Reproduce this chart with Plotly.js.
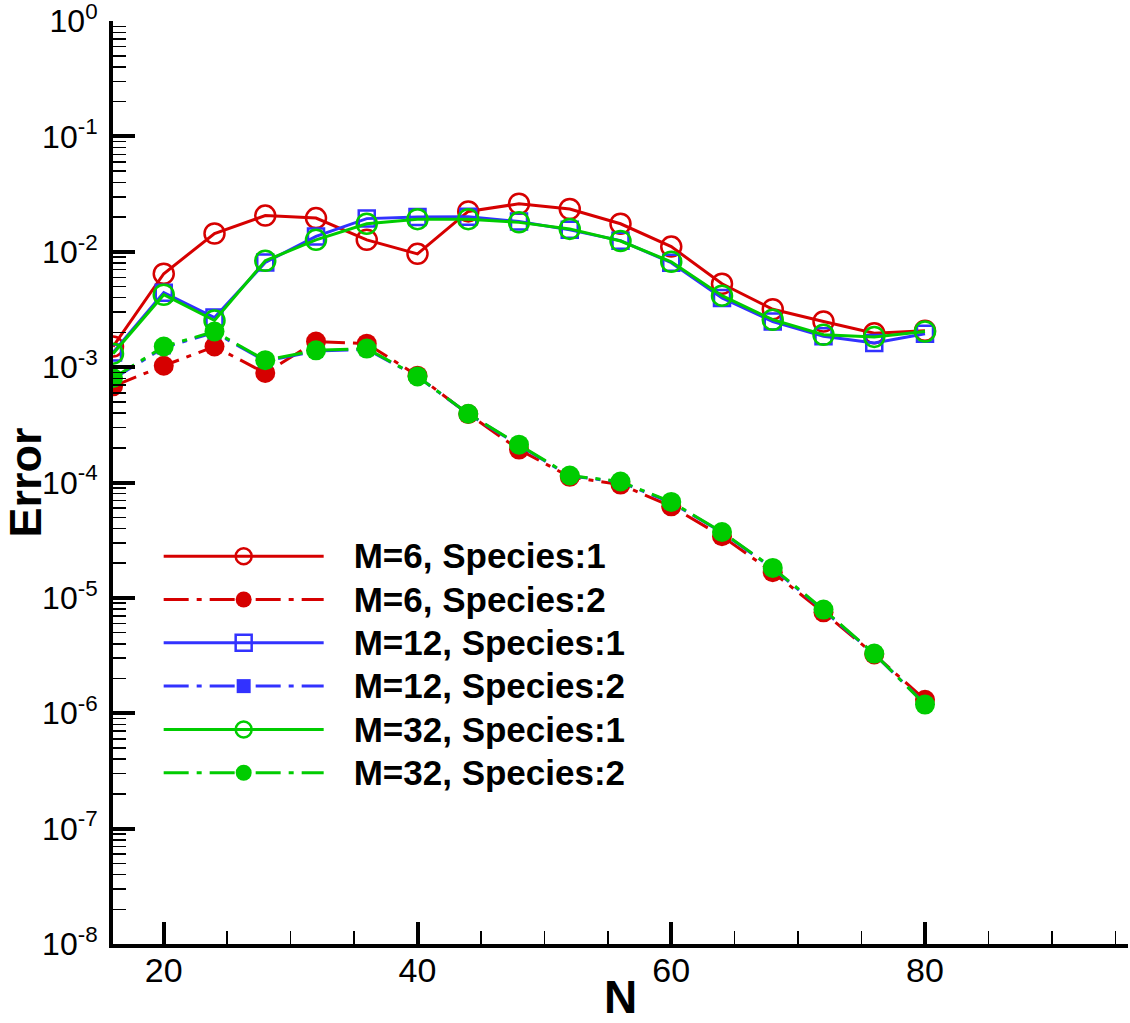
<!DOCTYPE html>
<html>
<head>
<meta charset="utf-8">
<script src="https://cdn.plot.ly/plotly-3.0.1.min.js"></script>
<style>
  html, body { margin: 0; padding: 0; background: #ffffff; }
  #chart { width: 1130px; height: 1023px; }
  #chart g.legend g.scrollbox { clip-path: none !important; }
  #chart g.legend text.legendtext { font-size: 35px !important; transform: translate(25px, 0px); }
</style>
</head>
<body>
<div id="chart"></div>
<script>
// ---- data ----
const N = [16, 20, 24, 28, 32, 36, 40, 44, 48, 52, 56, 60, 64, 68, 72, 76, 80];

const m6_s1  = [1.51e-3, 6.46e-3, 1.44e-2, 2.06e-2, 1.96e-2, 1.27e-2, 9.6e-3, 2.24e-2, 2.61e-2, 2.35e-2, 1.75e-2, 1.11e-2, 5.29e-3, 3.18e-3, 2.49e-3, 1.97e-3, 2.07e-3];
const m6_s2  = [6.82e-4, 1.03e-3, 1.51e-3, 8.9e-4, 1.67e-3, 1.60e-3, 8.44e-4, 3.92e-4, 1.93e-4, 1.12e-4, 9.6e-5, 6.22e-5, 3.42e-5, 1.67e-5, 7.5e-6, 3.23e-6, 1.31e-6];
const m12_s1 = [1.34e-3, 4.42e-3, 2.69e-3, 8.09e-3, 1.36e-2, 1.94e-2, 2.0e-2, 2.01e-2, 1.83e-2, 1.55e-2, 1.25e-2, 8.05e-3, 3.98e-3, 2.49e-3, 1.85e-3, 1.62e-3, 1.95e-3];
const m12_s2 = [7.9e-4, 1.48e-3, 2.0e-3, 1.13e-3, 1.38e-3, 1.43e-3, 8.3e-4, 3.94e-4, 2.1e-4, 1.14e-4, 1.01e-4, 6.7e-5, 3.7e-5, 1.8e-5, 7.8e-6, 3.27e-6, 1.2e-6];
const m32_s1 = [1.31e-3, 4.25e-3, 2.54e-3, 8.37e-3, 1.27e-2, 1.75e-2, 1.92e-2, 1.92e-2, 1.80e-2, 1.58e-2, 1.24e-2, 8.2e-3, 4.17e-3, 2.58e-3, 1.91e-3, 1.83e-3, 2.04e-3];
const m32_s2 = [8.06e-4, 1.51e-3, 2.04e-3, 1.15e-3, 1.40e-3, 1.45e-3, 8.32e-4, 3.95e-4, 2.13e-4, 1.15e-4, 1.02e-4, 6.79e-5, 3.73e-5, 1.82e-5, 7.92e-6, 3.29e-6, 1.19e-6];

const names = ["M=6, Species:1", "M=6, Species:2", "M=12, Species:1", "M=12, Species:2", "M=32, Species:1", "M=32, Species:2"];

const yTickVals = [1, 1e-1, 1e-2, 1e-3, 1e-4, 1e-5, 1e-6, 1e-7, 1e-8];
const yTickText = ["10<sup>0</sup>", "10<sup>-1</sup>", "10<sup>-2</sup>", "10<sup>-3</sup>", "10<sup>-4</sup>", "10<sup>-5</sup>", "10<sup>-6</sup>", "10<sup>-7</sup>", "10<sup>-8</sup>"];

// ---- styles ----
const RED = "rgb(214,0,0)", BLUE = "rgb(50,50,255)", GREEN = "rgb(0,204,0)";
const DASHDOT = "25px,8px,5px,8px";

function tr(y, name, color, dash, symbol, size, mline) {
  return {
    x: N, y: y, name: name, type: "scatter", mode: "lines+markers",
    line: { color: color, width: 3, dash: dash },
    marker: { symbol: symbol, size: size, color: color, line: { color: color, width: mline } }
  };
}

const traces = [
  tr(m6_s1,  names[0], RED,   "solid", "circle-open", 20, 2.5),
  tr(m6_s2,  names[1], RED,   DASHDOT, "circle",      20, 0),
  tr(m12_s1, names[2], BLUE,  "solid", "square-open", 16, 2.5),
  tr(m12_s2, names[3], BLUE,  DASHDOT, "square",      14, 0),
  tr(m32_s1, names[4], GREEN, "solid", "circle-open", 20, 2.5),
  tr(m32_s2, names[5], GREEN, DASHDOT, "circle",      20, 0)
];

const FONT = "Liberation Sans, Arial, Helvetica, sans-serif";

const layout = {
  width: 1130, height: 1023,
  margin: { l: 113, r: 2, t: 21, b: 79 },
  paper_bgcolor: "#ffffff", plot_bgcolor: "#ffffff",
  font: { family: FONT, color: "#000000", size: 32 },
  showlegend: true,
  legend: {
    x: 0.045, y: 0.449, xanchor: "left", yanchor: "top",
    bgcolor: "rgba(0,0,0,0)", borderwidth: 0,
    itemwidth: 160,
    font: { family: FONT, size: 31, color: "#000000", weight: "bold" },
    tracegroupgap: 0
  },
  xaxis: {
    range: [16, 96], showgrid: false, zeroline: false,
    showline: true, linecolor: "#000", linewidth: 4, mirror: false,
    tickmode: "linear", tick0: 0, dtick: 20,
    ticks: "inside", ticklen: 22, tickwidth: 4, tickcolor: "#000",
    ticklabelstandoff: -7,
    tickfont: { family: FONT, size: 34, color: "#000" },
    minor: { dtick: 5, tick0: 0, ticks: "inside", ticklen: 13, tickwidth: 1.5, tickcolor: "#000", showgrid: false },
    title: { text: "<b>N</b>", font: { family: FONT, size: 46, color: "#000" }, standoff: 27 }
  },
  yaxis: {
    type: "log", range: [-8, 0.0008], showgrid: false, zeroline: false,
    showline: true, linecolor: "#000", linewidth: 4, mirror: false,
    tickmode: "array", tickvals: yTickVals, ticktext: yTickText,
    ticklabeloverflow: "allow",
    ticklabelstandoff: 5,
    ticks: "inside", ticklen: 22, tickwidth: 4, tickcolor: "#000",
    tickfont: { family: FONT, size: 32, color: "#000" },
    minor: { dtick: "D1", ticks: "inside", ticklen: 13, tickwidth: 1.5, tickcolor: "#000", showgrid: false },
    title: { text: "<b>Error</b>", font: { family: FONT, size: 45, color: "#000" }, standoff: 3 }
  }
};

Plotly.newPlot("chart", traces, layout, { displayModeBar: false, staticPlot: true });
</script>
</body>
</html>
